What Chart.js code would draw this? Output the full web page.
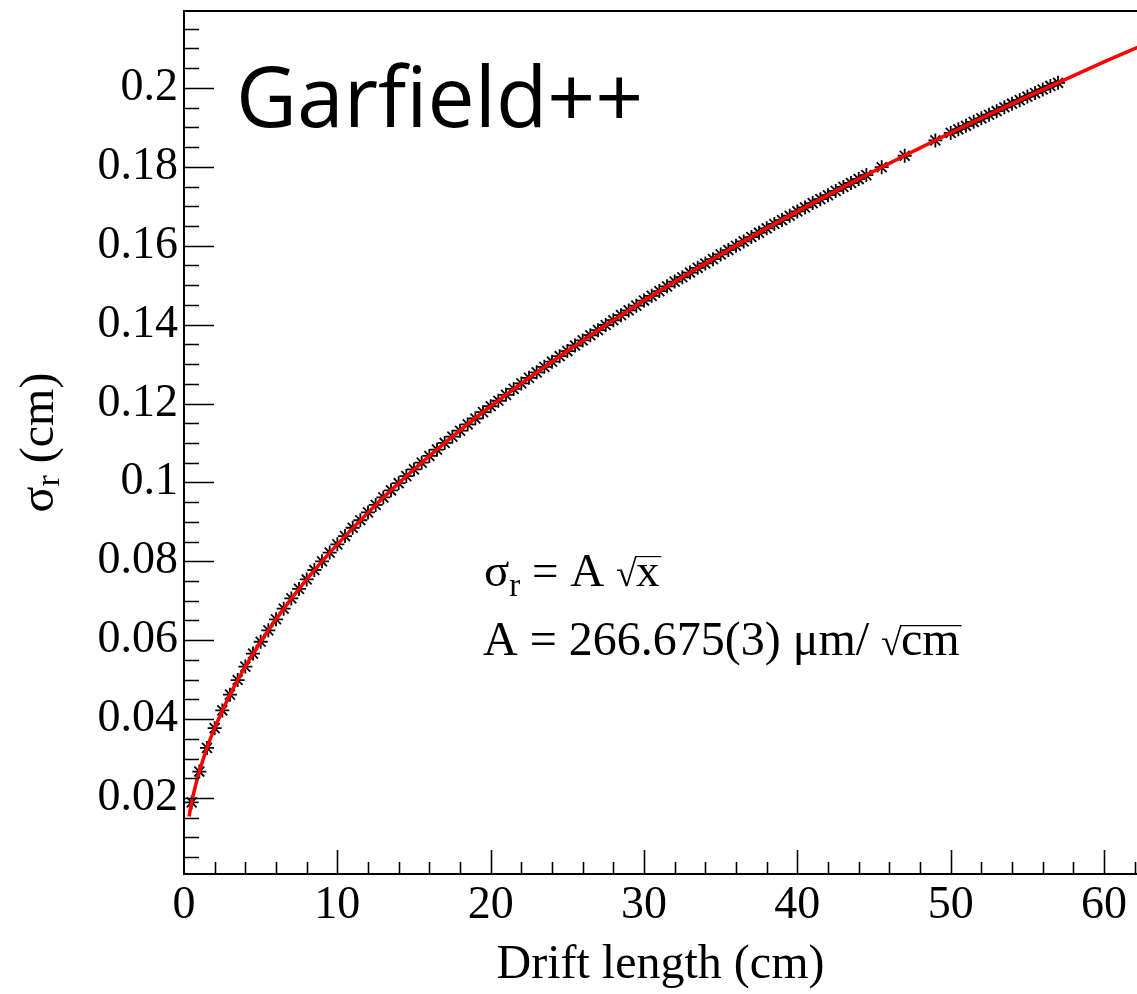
<!DOCTYPE html>
<html>
<head>
<meta charset="utf-8">
<script src="https://cdn.jsdelivr.net/npm/chart.js@4.4.0/dist/chart.umd.min.js"></script>
<style>
  html, body { margin: 0; padding: 0; background: #fff; }
  canvas { display: block; }
</style>
</head>
<body>
<canvas id="sigmaChart" width="1137" height="994"></canvas>
<script>
// simulated points (drift length in cm, sigma_r in cm)
const driftX = [
  0.5, 1.0, 1.5, 2.0, 2.5, 3.0, 3.5, 4.0, 4.5, 5.0, 5.5, 6.0, 6.5, 7.0, 7.5, 8.0, 8.5, 9.0, 9.5, 10.0,
  10.5, 11.0, 11.5, 12.0, 12.5, 13.0, 13.5, 14.0, 14.5, 15.0, 15.5, 16.0, 16.5, 17.0, 17.5, 18.0, 18.5, 19.0, 19.5, 20.0,
  20.5, 21.0, 21.5, 22.0, 22.5, 23.0, 23.5, 24.0, 24.5, 25.0, 25.5, 26.0, 26.5, 27.0, 27.5, 28.0, 28.5, 29.0, 29.5, 30.0,
  30.5, 31.0, 31.5, 32.0, 32.5, 33.0, 33.5, 34.0, 34.5, 35.0, 35.5, 36.0, 36.5, 37.0, 37.5, 38.0, 38.5, 39.0, 39.5, 40.0,
  40.5, 41.0, 41.5, 42.0, 42.5, 43.0, 43.5, 44.0, 44.5, 45.5, 47.0, 49.0,
  50.0, 50.5, 51.0, 51.5, 52.0, 52.5, 53.0, 53.5, 54.0, 54.5, 55.0, 55.5, 56.0, 56.5, 57.0
];
const sigmaY = [
  0.0189, 0.0267, 0.0327, 0.0377, 0.0422, 0.0462, 0.0499, 0.0533, 0.0566, 0.0596, 0.0625, 0.0653, 0.0680, 0.0706, 0.0730, 0.0754, 0.0778, 0.0800, 0.0822, 0.0843,
  0.0864, 0.0885, 0.0904, 0.0924, 0.0943, 0.0962, 0.0980, 0.0998, 0.1016, 0.1033, 0.1050, 0.1067, 0.1083, 0.1100, 0.1116, 0.1131, 0.1147, 0.1162, 0.1178, 0.1193,
  0.1207, 0.1222, 0.1237, 0.1251, 0.1265, 0.1279, 0.1293, 0.1306, 0.1320, 0.1333, 0.1347, 0.1360, 0.1373, 0.1386, 0.1399, 0.1411, 0.1424, 0.1436, 0.1448, 0.1461,
  0.1473, 0.1485, 0.1497, 0.1509, 0.1520, 0.1532, 0.1544, 0.1555, 0.1566, 0.1578, 0.1589, 0.1600, 0.1611, 0.1622, 0.1633, 0.1644, 0.1655, 0.1665, 0.1676, 0.1687,
  0.1697, 0.1708, 0.1718, 0.1728, 0.1739, 0.1749, 0.1759, 0.1769, 0.1779, 0.1799, 0.1828, 0.1867,
  0.1886, 0.1895, 0.1904, 0.1914, 0.1923, 0.1932, 0.1941, 0.1951, 0.1960, 0.1969, 0.1978, 0.1987, 0.1996, 0.2005, 0.2013
];

// fitted curve, sampled along the red line
const fitX = [0.33, 0.5, 0.75, 1, 1.5, 2, 3, 4, 5, 6, 8, 10, 12.5, 15, 17.5, 20, 25, 30, 35, 40, 45, 50, 55, 60, 62.2];
const fitY = [0.0153, 0.0189, 0.0231, 0.0267, 0.0327, 0.0377, 0.0462, 0.0533, 0.0596, 0.0653, 0.0754, 0.0843, 0.0943, 0.1033, 0.1116, 0.1193, 0.1333, 0.1461, 0.1578, 0.1687, 0.1789, 0.1886, 0.1978, 0.2066, 0.2103];

const xTickValues = [0, 10, 20, 30, 40, 50, 60];
const yTickValues = [0.02, 0.04, 0.06, 0.08, 0.1, 0.12, 0.14, 0.16, 0.18, 0.2];

const serif = "'Liberation Serif', 'DejaVu Serif', serif";

// draws pieces of text one after another; sub = subscript, sqrt = radical with bar
function drawRich(ctx, x, y, parts, size) {
  let cx = x;
  parts.forEach(p => {
    if (p.sub) {
      ctx.font = Math.round(size * 0.7) + 'px ' + serif;
      ctx.fillText(p.text, cx, y + size * 0.22);
      cx += ctx.measureText(p.text).width;
    } else if (p.sqrt) {
      ctx.font = Math.round(size * 0.8) + 'px ' + serif;
      const rad = ctx.measureText('\u221A');
      ctx.fillText('\u221A', cx, y);
      const top = y - rad.actualBoundingBoxAscent;
      cx += rad.width - 2;
      ctx.font = size + 'px ' + serif;
      const w = ctx.measureText(p.text).width;
      ctx.fillText(p.text, cx + 1, y);
      ctx.beginPath();
      ctx.lineWidth = 1.2;
      ctx.moveTo(cx, top + 0.6);
      ctx.lineTo(cx + w + 3, top + 0.6);
      ctx.stroke();
      cx += w + 3;
    } else {
      ctx.font = size + 'px ' + serif;
      ctx.fillText(p.text, cx, y);
      cx += ctx.measureText(p.text).width;
    }
  });
  return cx;
}

const rootFrame = {
  id: 'rootFrame',
  afterDraw(chart) {
    const ctx = chart.ctx;
    const a = chart.chartArea;
    const xs = chart.scales.x;
    const ys = chart.scales.y;
    ctx.save();
    ctx.strokeStyle = '#000';
    ctx.fillStyle = '#000';

    // frame
    ctx.lineWidth = 2;
    ctx.beginPath();
    ctx.moveTo(a.right, a.top);
    ctx.lineTo(a.left, a.top);
    ctx.lineTo(a.left, a.bottom);
    ctx.lineTo(a.right, a.bottom);
    ctx.stroke();

    // ticks pointing inward
    ctx.lineWidth = 1.6;
    ctx.beginPath();
    for (let v = 0; v <= ys.max + 1e-9; v += 0.005) {
      if (v < ys.min) continue;
      const py = Math.round(ys.getPixelForValue(v)) + 0.5;
      const major = Math.abs(v / 0.02 - Math.round(v / 0.02)) < 1e-6;
      ctx.moveTo(a.left, py);
      ctx.lineTo(a.left + (major ? 30 : 15), py);
    }
    for (let v = 0; v <= xs.max + 1e-9; v += 2) {
      const px = Math.round(xs.getPixelForValue(v)) + 0.5;
      const major = v % 10 === 0;
      if (v === 0) continue;
      ctx.moveTo(px, a.bottom);
      ctx.lineTo(px, a.bottom - (major ? 24 : 12));
    }
    ctx.stroke();

    // program label
    ctx.font = "84px 'Open Sans', 'Noto Sans', sans-serif";
    ctx.textBaseline = 'alphabetic';
    ctx.fillText('Garfield++', 236, 127);

    // fit annotation
    drawRich(ctx, 484, 586, [
      { text: '\u03C3' }, { text: 'r', sub: true }, { text: ' = A ' }, { text: 'x', sqrt: true }
    ], 47);
    drawRich(ctx, 483, 655, [
      { text: 'A = 266.675(3) \u03BCm/ ' }, { text: 'cm', sqrt: true }
    ], 48);

    // y axis title with subscript
    ctx.translate(40, (a.top + a.bottom) / 2);
    ctx.rotate(-Math.PI / 2);
    ctx.textBaseline = 'middle';
    const parts = [{ text: '\u03C3' }, { text: 'r', sub: true }, { text: ' (cm)' }];
    let total = 0;
    parts.forEach(p => {
      ctx.font = (p.sub ? 34 : 48) + 'px ' + serif;
      total += ctx.measureText(p.text).width;
    });
    drawRich(ctx, -total / 2, 0, parts, 48);
    ctx.restore();
  }
};

new Chart(document.getElementById('sigmaChart'), {
  type: 'line',
  data: {
    datasets: [
      {
        label: 'fit',
        data: fitX.map((x, i) => ({ x: x, y: fitY[i] })),
        borderColor: 'rgb(255, 0, 0)',
        borderWidth: 3.5,
        pointRadius: 0,
        cubicInterpolationMode: 'monotone',
        fill: false
      },
      {
        label: 'Garfield++',
        data: driftX.map((x, i) => ({ x: x, y: sigmaY[i] })),
        showLine: false,
        pointStyle: 'star',
        pointRadius: 7,
        borderColor: '#000',
        backgroundColor: '#000',
        pointBorderWidth: 1.8
      }
    ]
  },
  options: {
    responsive: false,
    animation: false,
    events: [],
    layout: { autoPadding: false, padding: { top: 11, right: 0, left: 0, bottom: 0 } },
    plugins: {
      legend: { display: false },
      tooltip: { enabled: false }
    },
    scales: {
      x: {
        type: 'linear',
        min: 0,
        max: 62.15,
        grid: { display: false, drawTicks: false },
        border: { display: false },
        afterFit(scale) {
          scale.height = 120;
          scale.paddingLeft = 0;
          scale.paddingRight = 0;
        },
        afterBuildTicks(scale) { scale.ticks = xTickValues.map(v => ({ value: v })); },
        ticks: {
          padding: 4,
          color: '#000',
          maxRotation: 0,
          autoSkip: false,
          font: { family: serif, size: 46 },
          callback: v => String(v)
        },
        title: {
          display: true,
          text: 'Drift length (cm)',
          color: '#000',
          font: { family: serif, size: 48 },
          padding: { top: 0, bottom: 0 }
        }
      },
      y: {
        type: 'linear',
        min: 0.00073,
        max: 0.2195,
        grid: { display: false, drawTicks: false },
        border: { display: false },
        afterFit(scale) {
          scale.width = 184;
          scale.paddingTop = 0;
          scale.paddingBottom = 0;
        },
        afterBuildTicks(scale) { scale.ticks = yTickValues.map(v => ({ value: v })); },
        ticks: {
          padding: 6,
          color: '#000',
          autoSkip: false,
          font: { family: serif, size: 46 },
          callback: v => String(Number(v.toFixed(3)))
        }
      }
    }
  },
  plugins: [rootFrame]
});
</script>
</body>
</html>
